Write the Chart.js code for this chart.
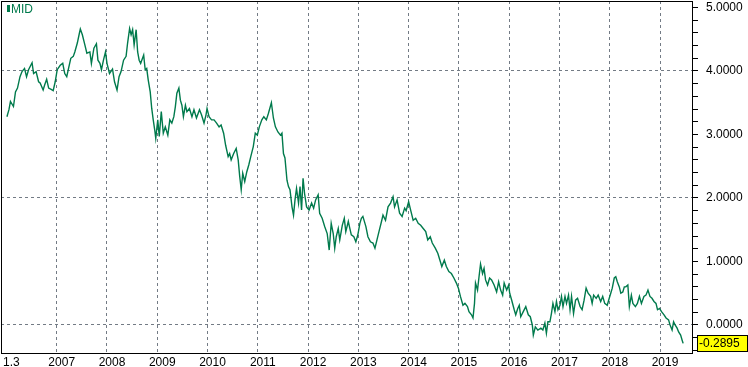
<!DOCTYPE html>
<html>
<head>
<meta charset="utf-8">
<script src="https://cdn.jsdelivr.net/npm/chart.js@4.4.1/dist/chart.umd.min.js"></script>
<style>
  html, body { margin: 0; padding: 0; background: #fff; }
</style>
</head>
<body>
<canvas id="myChart" width="748" height="367"></canvas>
<script>
// decimal years
var dates = [
  2006.01, 2006.05, 2006.08, 2006.14, 2006.18, 2006.22, 2006.27, 2006.31, 2006.36, 2006.40, 2006.44, 2006.51,
  2006.54, 2006.59, 2006.64, 2006.67, 2006.73, 2006.76, 2006.80, 2006.84, 2006.89, 2006.93, 2006.97,
  2007.01, 2007.07, 2007.12, 2007.16, 2007.20, 2007.23, 2007.28, 2007.33, 2007.36, 2007.41, 2007.45, 2007.47,
  2007.51, 2007.56, 2007.60, 2007.66, 2007.69, 2007.74, 2007.79, 2007.82, 2007.86, 2007.89, 2007.93, 2007.97,
  2008.00, 2008.05, 2008.11, 2008.15, 2008.20, 2008.24, 2008.28, 2008.33, 2008.38, 2008.41, 2008.45, 2008.48,
  2008.51, 2008.54, 2008.58, 2008.61, 2008.64, 2008.67, 2008.73, 2008.76, 2008.79, 2008.82, 2008.86, 2008.89,
  2008.92, 2008.95, 2008.97,
  2009.01, 2009.04, 2009.08, 2009.12, 2009.16, 2009.21, 2009.25, 2009.29, 2009.33, 2009.36, 2009.39, 2009.43,
  2009.46, 2009.49, 2009.52, 2009.56, 2009.59, 2009.64, 2009.69, 2009.73, 2009.78, 2009.84, 2009.88, 2009.93,
  2009.97, 2009.99,
  2010.03, 2010.08, 2010.13, 2010.18, 2010.23, 2010.27, 2010.32, 2010.36, 2010.41, 2010.44, 2010.47, 2010.52,
  2010.57, 2010.61, 2010.64, 2010.67, 2010.70, 2010.74, 2010.78, 2010.82, 2010.86, 2010.91, 2010.95, 2010.99,
  2011.03, 2011.08, 2011.12, 2011.17, 2011.21, 2011.27, 2011.31, 2011.35, 2011.40, 2011.45, 2011.48, 2011.51,
  2011.54, 2011.58, 2011.61, 2011.64, 2011.68, 2011.71, 2011.74, 2011.77, 2011.81, 2011.84, 2011.87, 2011.90,
  2011.93, 2011.97,
  2012.02, 2012.07, 2012.11, 2012.15, 2012.20, 2012.23, 2012.28, 2012.33, 2012.38, 2012.42, 2012.46, 2012.50,
  2012.53, 2012.56, 2012.60, 2012.63, 2012.68, 2012.72, 2012.75, 2012.80, 2012.83, 2012.86, 2012.91, 2012.95,
  2012.99,
  2013.03, 2013.06, 2013.09, 2013.15, 2013.19, 2013.24, 2013.29, 2013.33, 2013.37, 2013.41, 2013.46, 2013.49,
  2013.54, 2013.59, 2013.64, 2013.69, 2013.72, 2013.77, 2013.82, 2013.87, 2013.92, 2013.95,
  2014.00, 2014.04, 2014.09, 2014.14, 2014.19, 2014.24, 2014.29, 2014.34, 2014.38, 2014.43, 2014.47, 2014.53,
  2014.58, 2014.63, 2014.66, 2014.71, 2014.75, 2014.80, 2014.85, 2014.90, 2014.95, 2014.99,
  2015.03, 2015.08, 2015.12, 2015.17, 2015.20, 2015.25, 2015.28, 2015.31, 2015.33, 2015.37, 2015.40, 2015.43,
  2015.47, 2015.50, 2015.53, 2015.57, 2015.61, 2015.65, 2015.70, 2015.75, 2015.79, 2015.83, 2015.87, 2015.90,
  2015.95, 2015.99,
  2016.01, 2016.05, 2016.10, 2016.13, 2016.17, 2016.20, 2016.23, 2016.28, 2016.33, 2016.38, 2016.42, 2016.46,
  2016.48, 2016.52, 2016.57, 2016.63, 2016.67, 2016.71, 2016.74, 2016.77, 2016.81, 2016.84, 2016.87, 2016.91,
  2016.94, 2016.97,
  2017.01, 2017.04, 2017.07, 2017.11, 2017.14, 2017.18, 2017.21, 2017.24, 2017.28, 2017.32, 2017.36, 2017.41,
  2017.45, 2017.49, 2017.53, 2017.57, 2017.62, 2017.65, 2017.68, 2017.73, 2017.77, 2017.82, 2017.86, 2017.90,
  2017.95, 2017.99,
  2018.02, 2018.05, 2018.09, 2018.12, 2018.15, 2018.19, 2018.22, 2018.26, 2018.29, 2018.32, 2018.36, 2018.39,
  2018.43, 2018.46, 2018.51, 2018.55, 2018.59, 2018.63, 2018.68, 2018.72, 2018.76, 2018.80, 2018.84, 2018.88,
  2018.92, 2018.95, 2018.99,
  2019.03, 2019.08, 2019.12, 2019.17, 2019.20, 2019.24, 2019.27, 2019.30, 2019.34, 2019.37, 2019.41, 2019.44,
  2019.46
];

var mid = [
  3.28, 3.39, 3.52, 3.44, 3.67, 3.73, 3.91, 3.99, 4.04, 3.91, 4.02, 4.13,
  3.96, 3.99, 3.83, 3.81, 3.70, 3.78, 3.87, 3.73, 3.71, 3.69, 3.83,
  4.02, 4.09, 4.12, 3.96, 3.91, 4.02, 4.20, 4.23, 4.30, 4.44, 4.59, 4.66,
  4.57, 4.41, 4.28, 4.30, 4.12, 4.36, 4.43, 4.17, 4.12, 4.02, 4.17, 4.30,
  4.12, 3.96, 4.03, 3.83, 3.70, 3.91, 3.99, 4.17, 4.23, 4.44, 4.67, 4.57,
  4.65, 4.41, 4.65, 4.30, 4.17, 4.12, 4.25, 4.02, 4.04, 3.86, 3.67, 3.41,
  3.23, 3.07, 2.94,
  3.23, 2.97, 3.36, 3.02, 3.12, 2.99, 3.23, 3.18, 3.28, 3.44, 3.65, 3.73,
  3.54, 3.46, 3.28, 3.46, 3.36, 3.41, 3.28, 3.39, 3.26, 3.39, 3.31, 3.18,
  3.31, 3.41,
  3.28, 3.23, 3.23, 3.18, 3.12, 3.15, 3.02, 2.83, 2.65, 2.70, 2.60, 2.70,
  2.78, 2.60, 2.34, 2.13, 2.39, 2.26, 2.41, 2.52, 2.65, 2.81, 3.02, 2.99,
  3.12, 3.23, 3.28, 3.23, 3.33, 3.50, 3.26, 3.12, 3.04, 2.99, 3.02, 2.70,
  2.63, 2.28, 2.18, 2.13, 1.86, 1.73, 1.97, 2.15, 1.92, 2.18, 1.81, 2.31,
  2.07, 1.86,
  1.81, 1.92, 1.84, 1.97, 2.05, 1.76, 1.68, 1.55, 1.44, 1.18, 1.60, 1.44,
  1.21, 1.39, 1.52, 1.34, 1.57, 1.68, 1.47, 1.63, 1.52, 1.42, 1.39, 1.31,
  1.42,
  1.60, 1.68, 1.71, 1.55, 1.39, 1.31, 1.29, 1.21, 1.34, 1.47, 1.63, 1.73,
  1.65, 1.86, 1.92, 2.02, 1.86, 1.97, 1.76, 1.71, 1.84, 1.80,
  1.94, 1.81, 1.65, 1.68, 1.60, 1.57, 1.52, 1.47, 1.34, 1.39, 1.29, 1.21,
  1.13, 1.00, 0.92, 1.02, 0.92, 0.84, 0.81, 0.74, 0.66, 0.58,
  0.45, 0.31, 0.34, 0.29, 0.21, 0.16, 0.11, 0.34, 0.66, 0.55, 0.76, 0.96,
  0.81, 0.89, 0.71, 0.63, 0.74, 0.71, 0.63, 0.52, 0.68, 0.55, 0.47, 0.66,
  0.55, 0.63,
  0.50, 0.39, 0.24, 0.16, 0.26, 0.31, 0.13, 0.21, 0.29, 0.16, 0.13, 0.00,
  -0.16, -0.03, -0.08, -0.05, -0.08, 0.03, -0.13, 0.05, 0.05, 0.18, 0.34, 0.21,
  0.37, 0.24,
  0.31, 0.45, 0.29, 0.45, 0.34, 0.47, 0.24, 0.45, 0.18, 0.39, 0.42, 0.29,
  0.24, 0.39, 0.58, 0.50, 0.45, 0.34, 0.47, 0.42, 0.47, 0.37, 0.45, 0.34,
  0.31, 0.42,
  0.50, 0.58, 0.74, 0.76, 0.68, 0.60, 0.50, 0.52, 0.60, 0.60, 0.63, 0.29,
  0.47, 0.34, 0.29, 0.34, 0.45, 0.34, 0.45, 0.47, 0.55, 0.45, 0.42, 0.37,
  0.34, 0.24, 0.26,
  0.21, 0.16, 0.11, 0.08, 0.00, -0.08, 0.05, 0.00, -0.05, -0.11, -0.16, -0.24,
  -0.2895
];

var xTicks = [2006, 2007, 2008, 2009, 2010, 2011, 2012, 2013, 2014, 2015, 2016, 2017, 2018, 2019];
var xTickLabels = ['1.3', '2007', '2008', '2009', '2010', '2011', '2012', '2013', '2014', '2015', '2016', '2017', '2018', '2019'];
var yLabelValues = [0, 1, 2, 3, 4, 5];
var yGridValues = [0, 2, 4];
var seriesName = 'MID';

var lineColor = '#007a4c';
var gridColor = '#737b85';
var fontFamily = "'Liberation Sans', Arial, sans-serif";

function isOneOf(v, list) {
  for (var i = 0; i < list.length; i++) {
    if (Math.abs(v - list[i]) < 1e-6) return true;
  }
  return false;
}

// black frame, legend tag and last value box
var decorations = {
  id: 'decorations',
  afterDraw: function(chart) {
    var ctx = chart.ctx;
    var a = chart.chartArea;
    ctx.save();
    ctx.strokeStyle = '#000';
    ctx.lineWidth = 1;
    ctx.strokeRect(a.left + 0.5, a.top + 0.5, a.right - a.left - 1, a.bottom - a.top - 1);

    ctx.fillStyle = lineColor;
    ctx.fillRect(a.left + 6, a.top + 4, 3, 7);
    ctx.font = '12px ' + fontFamily;
    ctx.textBaseline = 'alphabetic';
    ctx.fillText(seriesName, a.left + 10, a.top + 12);

    var last = mid[mid.length - 1];
    var yc = Math.round(chart.scales.y.getPixelForValue(last));
    var bx = a.right + 4;
    ctx.fillStyle = '#ffff00';
    ctx.fillRect(bx + 0.5, yc - 7.5, 50, 16);
    ctx.strokeStyle = '#000';
    ctx.strokeRect(bx + 0.5, yc - 7.5, 50, 16);
    ctx.fillStyle = '#000';
    ctx.textBaseline = 'middle';
    ctx.fillText(last.toFixed(4), bx + 2, yc + 1);
    ctx.restore();
  }
};

function drawChart() {
  var points = dates.map(function(d, i) { return { x: d, y: mid[i] }; });

  var ctx = document.getElementById('myChart').getContext('2d');
  var chart = new Chart(ctx, {
    type: 'line',
    data: {
      datasets: [{
        label: seriesName,
        data: points,
        borderColor: lineColor,
        borderWidth: 1.4,
        pointRadius: 0,
        tension: 0,
        fill: false
      }]
    },
    options: {
      responsive: false,
      animation: false,
      devicePixelRatio: 1,
      layout: { padding: { left: 1, top: 1, right: 0, bottom: 0 } },
      plugins: { legend: { display: false }, tooltip: { enabled: false } },
      scales: {
        x: {
          type: 'linear',
          min: 2005.892,
          max: 2019.656,
          afterBuildTicks: function(scale) {
            scale.ticks = xTicks.map(function(v) { return { value: v }; });
          },
          afterFit: function(scale) {
            scale.height = 13;
            scale.paddingLeft = 0;
            scale.paddingRight = 0;
          },
          grid: {
            color: function(c) {
              return c.tick && c.tick.value === xTicks[0] ? 'rgba(0,0,0,0)' : gridColor;
            },
            drawTicks: false,
            lineWidth: 1
          },
          border: { display: false, dash: [3, 3] },
          ticks: {
            autoSkip: false,
            maxRotation: 0,
            labelOffset: 5,
            padding: 1,
            color: '#000',
            font: { family: fontFamily, size: 12 },
            callback: function(v, i) { return xTickLabels[i]; }
          }
        },
        y: {
          type: 'linear',
          position: 'right',
          min: -0.457,
          max: 5.102,
          afterBuildTicks: function(scale) {
            var t = [];
            for (var k = -2; k <= 25; k++) t.push({ value: k / 5 });
            scale.ticks = t;
          },
          afterFit: function(scale) {
            scale.width = 55;
            scale.paddingTop = 0;
            scale.paddingBottom = 0;
          },
          grid: {
            color: function(c) {
              return c.tick && isOneOf(c.tick.value, yGridValues) ? gridColor : 'rgba(0,0,0,0)';
            },
            tickColor: '#000',
            tickLength: 5,
            tickWidth: 1,
            tickBorderDash: [],
            lineWidth: 1
          },
          border: { display: false, dash: [3, 3] },
          ticks: {
            autoSkip: false,
            padding: 8,
            color: '#000',
            font: { family: fontFamily, size: 12 },
            callback: function(v) { return isOneOf(v, yLabelValues) ? v.toFixed(4) : ''; }
          }
        }
      }
    },
    plugins: [decorations]
  });
}

drawChart();
</script>
</body>
</html>
